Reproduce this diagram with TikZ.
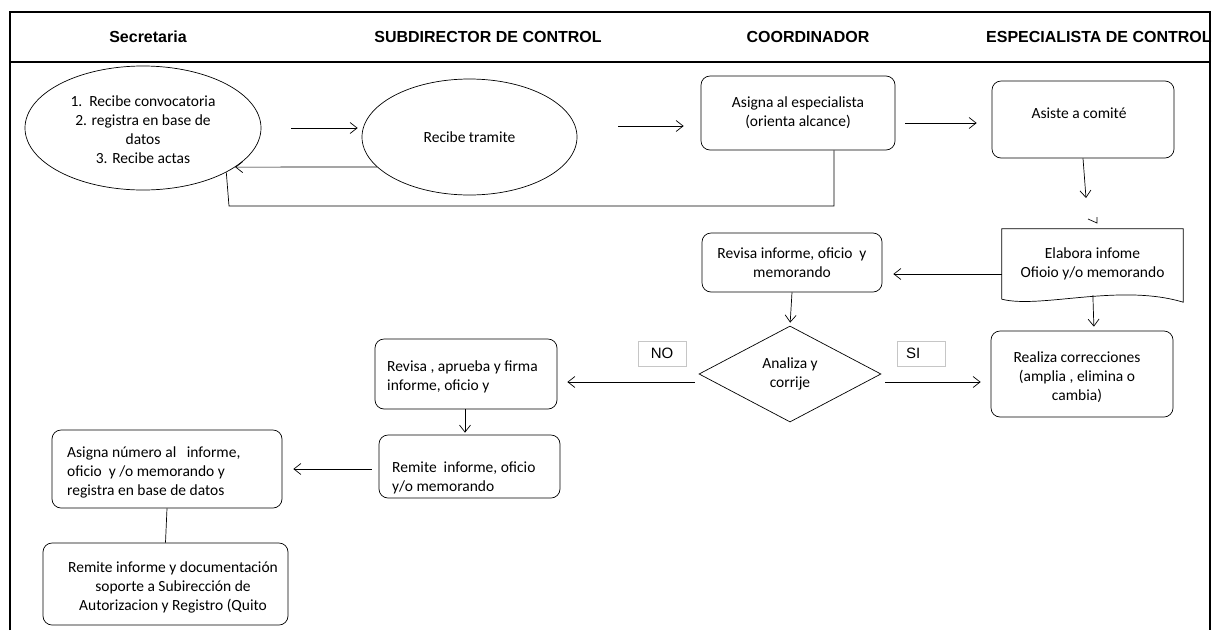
\documentclass[tikz,border=0pt]{standalone}
\usepackage{fontspec}
\setmainfont{Carlito}
\newfontfamily\hdfont{Liberation Sans}
\usetikzlibrary{shapes.geometric,arrows.meta}

\tikzset{
  txt/.style={font=\fontsize{15.5}{19}\selectfont, align=center, inner sep=0pt},
  box/.style={draw, rounded corners=9pt, line width=0.7pt, inner sep=0pt, txt},
  ell/.style={draw, ellipse, line width=0.7pt, inner sep=0pt, txt},
  arr/.style={-{Straight Barb[length=7pt,width=11pt]}, line width=0.7pt},
  link/.style={line width=0.7pt},
  lane/.style={font=\hdfont\bfseries\fontsize{16}{19}\selectfont, inner sep=0pt},
  tag/.style={draw=gray!45, line width=0.8pt, minimum width=48pt, minimum height=25pt,
    inner sep=0pt, font=\hdfont\fontsize{15}{18}\selectfont}
}

\begin{document}
\begin{tikzpicture}[x=1pt, y=-1pt]
\useasboundingbox (0,0) rectangle (1213,630);

% swimlane frame and header row
\draw[line width=2.5pt] (10,630) -- (10,12) -- (1210,12) -- (1210,630);
\draw[line width=2pt] (10,62) -- (1210,62);
\node[lane] (h1) at (148,37) {Secretaria};
\node[lane] (h2) at (488,37) {SUBDIRECTOR DE CONTROL};
\node[lane] (h3) at (808,37) {COORDINADOR};
\node[lane, anchor=west] (h4) at (986,37) {ESPECIALISTA DE CONTROL};

% first row
\node[ell, minimum width=236pt, minimum height=124pt] (e1) at (143,128) {};
\node[txt] (e1t) at (143,130) {1.\ \ Recibe convocatoria\\2. registra en base de\\datos\\3. Recibe actas};
\node[ell, minimum width=215pt, minimum height=116pt] (e2) at (469.5,137) {Recibe tramite};
\node[box, minimum width=194pt, minimum height=74pt] (asg) at (798,113) {Asigna al especialista\\(orienta alcance)};
\node[box, minimum width=182pt, minimum height=77pt] (ast) at (1083,119.5) {};
\node[txt] (astt) at (1079,113) {Asiste a comité};

\draw[arr, shorten <=30pt, shorten >=4pt] (e1.east |- 0,128) -- (e2.west |- 0,128);
\draw[arr, shorten <=41pt, shorten >=17pt] (e2.east |- 0,126) -- (asg.west |- 0,126);
\draw[arr, shorten <=10pt, shorten >=15pt] (asg.east |- 0,123) -- (ast.west |- 0,123);
\draw[arr] (e2.198.8) -- (e1.-23.9);
\coordinate (back) at (229,206);
\draw[link] ([xshift=36pt]asg.south) |- (back) -- (e1.-28);

% report document
\node[txt, minimum width=181pt, minimum height=70pt] (doc) at (1092.5,264) {Elabora infome\\Ofioio y/o memorando};
\draw[link] (doc.south west) -- (doc.north west) -- (doc.north east) -- ([yshift=-3pt]doc.south east)
  .. controls (1120,283) and (1040,309) .. (doc.south west);
\coordinate (astend) at (1086,198);
\draw[arr] (ast.south) -- (astend);
\draw[link] (1088,219) -- (1097,223) -- (1097,217);

% review and decision
\node[box, minimum width=180pt, minimum height=59pt] (rev) at (792,262.5) {Revisa informe, oficio\ \ y\\memorando};
\node[draw, diamond, line width=0.7pt, minimum width=182pt, minimum height=96pt, txt] (dia) at (790,374) {Analiza y\\corrije};
\node[box, minimum width=182pt, minimum height=86pt] (rea) at (1082,374) {};
\node[txt] (reat) at (1077,377) {Realiza correcciones\\(amplia , elimina o\\cambia)};
\node[tag] (no) at (662,353.5) {NO};
\node[tag] (si) at (921.5,353.5) {};
\node[font=\hdfont\fontsize{15}{18}\selectfont, inner sep=0pt, anchor=west] (sit) at (906,353.5) {SI};

\draw[arr, shorten >=11pt] (doc.west |- 0,274) -- (rev.east |- 0,274);
\draw[arr, shorten >=3pt] (rev.south) -- (dia.north);
\draw[arr, shorten <=4pt, shorten >=10pt] (dia.east |- 0,382) -- (rea.west |- 0,382);
\draw[arr, shorten <=-4pt, shorten >=4pt] (doc.south -| 1093,0) -- (rea.north -| 1094,0);

% approval and dispatch
\node[box, minimum width=182pt, minimum height=70pt] (rap) at (466,374) {};
\node[txt, align=left, anchor=west] (rapt) at (387,376.5) {Revisa , aprueba y firma\\informe, oficio y};
\node[box, minimum width=181pt, minimum height=63pt] (rem) at (469.5,466.5) {};
\node[txt, align=left, anchor=west] (remt) at (392,477.5) {Remite\ \ informe, oficio\\y/o memorando};
\node[box, minimum width=230pt, minimum height=78pt] (asn) at (167,469) {};
\node[txt, align=left, anchor=west] (asnt) at (67,472) {Asigna número al\ \ \ informe,\\oficio\ \ y /o memorando y\\registra en base de datos};
\node[box, minimum width=245pt, minimum height=82pt] (rmt) at (165.5,584) {};
\node[txt] (rmtt) at (173,587) {Remite informe y documentación\\soporte a Subirección de\\Autorizacion y Registro (Quito};

\draw[arr, shorten <=4pt, shorten >=10pt] (dia.west |- 0,382) -- (rap.east |- 0,382);
\draw[arr, shorten >=2pt] (rap.south -| 465,0) -- (rem.north -| 465,0);
\draw[arr, shorten <=7pt, shorten >=11pt] (rem.west |- 0,469) -- (asn.east |- 0,469);
\draw[link] (asn.south) -- (rmt.north);
\end{tikzpicture}
\end{document}
